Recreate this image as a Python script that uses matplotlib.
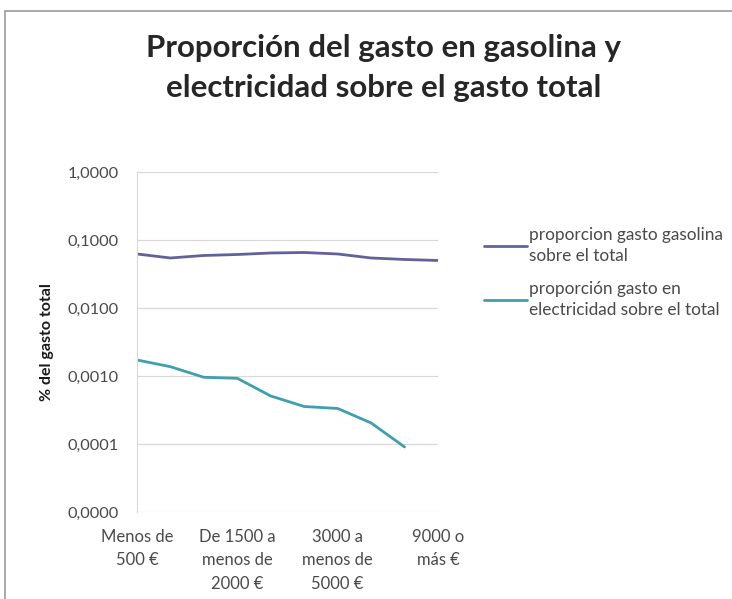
import matplotlib
matplotlib.use("Agg")
import matplotlib.pyplot as plt
from matplotlib.ticker import FixedLocator, FuncFormatter, NullLocator
from matplotlib.patches import Rectangle
import numpy as np

categories = ["Menos de 500 €", "De 500 a menos de 1000 €", "De 1000 a menos de 1500 €",
              "De 1500 a menos de 2000 €", "De 2000 a menos de 2500 €", "De 2500 a menos de 3000 €",
              "3000 a menos de 5000 €", "De 5000 a menos de 7000 €", "De 7000 a menos de 9000 €",
              "9000 o más €"]
gasolina = [0.0623, 0.0544, 0.0592, 0.0612, 0.0644, 0.0655, 0.0623, 0.0544, 0.0517, 0.0500]
electricidad = [0.00172, 0.00137, 0.000957, 0.000925, 0.000508, 0.000356, 0.000333,
                0.000204, 0.0000904, np.nan]
tick_idx = [0, 3, 6, 9]
tick_labels = ["Menos de\n500 €", "De 1500 a\nmenos de\n2000 €", "3000 a\nmenos de\n5000 €", "9000 o\nmás €"]
y_ticks = [1e-5, 1e-4, 1e-3, 1e-2, 1e-1, 1.0]
series_names = ["proporcion gasto gasolina\nsobre el total", "proporción gasto en\nelectricidad sobre el total"]
title = "Proporción del gasto en gasolina y\nelectricidad sobre el gasto total"
ylabel = "% del gasto total"

plt.rcParams['font.family'] = ['Lato', 'DejaVu Sans']

fig = plt.figure(figsize=(7.32, 5.99), dpi=100)
fig.patches.append(Rectangle((5/732, -0.01), 1.2, 1 - 11/599 + 0.01, transform=fig.transFigure,
                             fill=False, edgecolor="#9a9a9a", linewidth=1.2))

ax = fig.add_axes([137/732, 1 - 512/599, (438 - 137)/732, (512 - 172)/599])
x = np.arange(len(categories))
l1, = ax.plot(x, gasolina, color="#62629a", linewidth=2.0, solid_capstyle="round")
l2, = ax.plot(x, electricidad, color="#3f9fae", linewidth=2.0, solid_capstyle="round")

ax.set_yscale("log")
ax.set_ylim(1e-5, 1.0)
ax.set_xlim(0, len(categories) - 1)
ax.yaxis.set_major_locator(FixedLocator(y_ticks))
ax.yaxis.set_minor_locator(NullLocator())
ax.yaxis.set_major_formatter(FuncFormatter(lambda v, p: f"{v:.4f}".replace(".", ",")))
ax.set_xticks(tick_idx)
ax.set_xticklabels(tick_labels, fontsize=12, color="#4a4a4a", linespacing=1.6)
ax.tick_params(axis="y", length=0, labelsize=11.8, labelcolor="#4a4a4a", pad=13)
ax.tick_params(axis="x", length=0, pad=12)
ax.grid(axis="y", color="#d9d9d9", linewidth=0.9)
ax.set_axisbelow(True)
for s in ["top", "right", "bottom"]:
    ax.spines[s].set_visible(False)
ax.spines["left"].set_color("#d9d9d9")

ax.set_ylabel(ylabel, fontsize=11.5, fontweight="bold", color="#1a1a1a", labelpad=10)

fig.text(384/732, 1 - 68/599, title, ha="center", va="center", fontsize=22.5,
         fontweight="bold", color="#262626", linespacing=1.55)

leg = fig.legend([l1, l2], series_names, loc="upper left", bbox_to_anchor=(468/732, 1 - 212/599),
                 frameon=False, fontsize=12.4, handlelength=2.55, handletextpad=0.1,
                 labelspacing=1.0, labelcolor="#4a4a4a")
for t in leg.get_texts():
    t.set_linespacing(1.34)

fig.savefig("out.png", dpi=100)
